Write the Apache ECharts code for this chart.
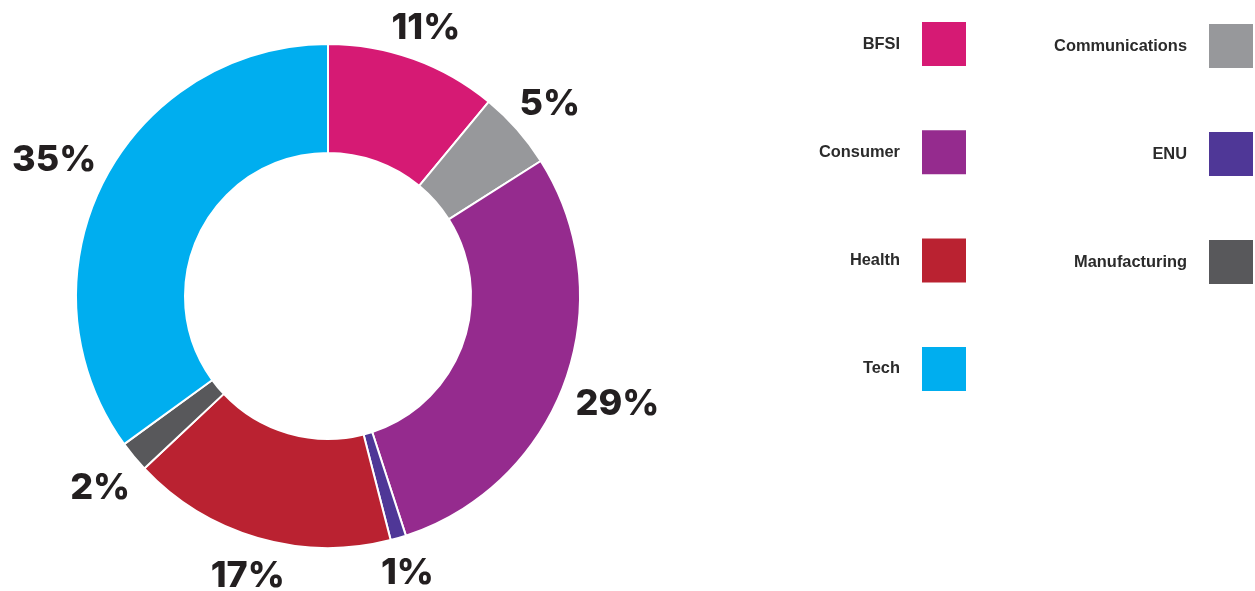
<!DOCTYPE html>
<html>
<head>
<meta charset="utf-8">
<script src="https://cdn.jsdelivr.net/npm/echarts@6/dist/echarts.min.js"></script>
<style>
  html, body { margin: 0; padding: 0; background: #ffffff; }
  #chart { width: 1255px; height: 591px; }
</style>
</head>
<body>
<div id="chart"></div>
<script>
// Industry share of the portfolio, in percent
const sectors = ['BFSI', 'Communications', 'Consumer', 'ENU', 'Health', 'Manufacturing', 'Tech'];
const shares = [11, 5, 29, 1, 17, 2, 35];
const sectorColors = ['#d61a74', '#97989b', '#952b8e', '#4f3797', '#ba2231', '#58585b', '#00aeef'];

// Legend columns, read row by row
const legendLeftColumn = ['BFSI', 'Consumer', 'Health', 'Tech'];
const legendRightColumn = ['Communications', 'ENU', 'Manufacturing'];

const slices = sectors.map((name, i) => ({
  name: name,
  value: shares[i],
  itemStyle: { color: sectorColors[i] }
}));

const center = [328, 296];
const innerRadius = 143;
const outerRadius = 252;
const labelGap = 11;        // space between the ring and the nearest edge of a label
const glyphHalfHeight = 15; // half the height of the digits
const glyphOffsetY = 4;     // digits sit above the middle of their text box

const legendBase = {
  orient: 'vertical',
  align: 'right',
  icon: 'rect',
  itemWidth: 46,
  itemHeight: 46,
  padding: 0,
  selectedMode: false,
  textStyle: {
    fontFamily: '"Liberation Sans", Arial, sans-serif',
    fontWeight: 'bold',
    fontSize: 16.4,
    color: '#2b2b2b',
    padding: [12, 16, 0, 0]
  }
};

// Push each percentage label out along its slice's middle direction so
// that its closest edge sits a fixed distance from the outer ring.
function placeLabel(params) {
  const r = params.labelRect;
  const cx = r.x + r.width / 2;
  const cy = r.y + r.height / 2;
  const dx = cx - center[0];
  const dy = cy - center[1];
  const len = Math.sqrt(dx * dx + dy * dy) || 1;
  const ux = dx / len;
  const uy = dy / len;
  const halfW = r.width / 2;
  const d = outerRadius + labelGap + halfW * Math.abs(ux) + glyphHalfHeight * Math.abs(uy);
  return {
    x: center[0] + ux * d,
    y: center[1] + uy * d + glyphOffsetY,
    align: 'center',
    verticalAlign: 'middle'
  };
}

const chart = echarts.init(document.getElementById('chart'), null, { renderer: 'canvas' });

chart.setOption({
  backgroundColor: '#ffffff',
  animation: false,
  legend: [
    Object.assign({}, legendBase, { data: legendLeftColumn, top: 20, right: 287, itemGap: 60.3 }),
    Object.assign({}, legendBase, { data: legendRightColumn, top: 22, right: 0, itemGap: 60 })
  ],
  series: [
    {
      // the donut itself
      type: 'pie',
      center: center,
      radius: [innerRadius, outerRadius],
      startAngle: 90,
      clockwise: true,
      avoidLabelOverlap: false,
      silent: true,
      itemStyle: { borderColor: '#ffffff', borderWidth: 2 },
      label: { show: false },
      labelLine: { show: false },
      data: slices
    },
    {
      // invisible outer ring that carries the percentage labels
      type: 'pie',
      center: center,
      radius: [outerRadius, 330],
      startAngle: 90,
      clockwise: true,
      avoidLabelOverlap: false,
      silent: true,
      z: 1,
      itemStyle: { color: 'rgba(0,0,0,0)', borderWidth: 0 },
      label: {
        show: true,
        position: 'inside',
        formatter: p => p.value + '%',
        fontFamily: 'Inter, "Open Sans", sans-serif',
        fontWeight: 800,
        fontSize: 36,
        color: '#231f20'
      },
      labelLine: { show: false },
      labelLayout: placeLabel,
      data: sectors.map((name, i) => ({ name: name, value: shares[i] }))
    }
  ]
});
</script>
</body>
</html>
